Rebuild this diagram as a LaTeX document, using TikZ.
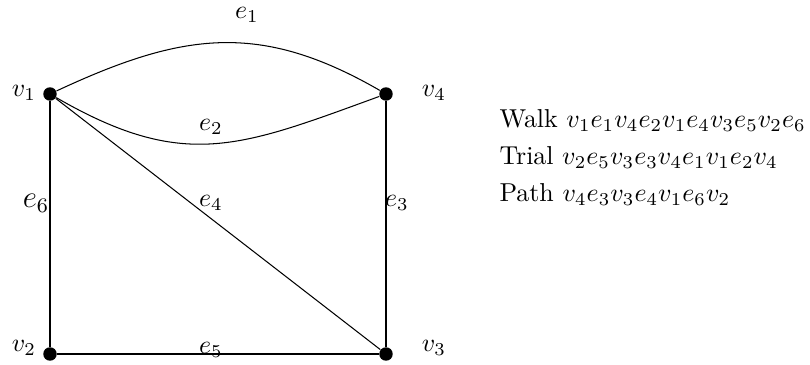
\documentclass[tikz,border=0pt]{standalone}
\begin{document}
\begin{tikzpicture}[x=0.386pt,y=0.386pt,
  vert/.style={circle,fill=black,inner sep=0pt,minimum size=5.2pt},
  lbl/.style={inner sep=0pt},
  txt/.style={inner sep=0pt,anchor=base west}]
\useasboundingbox (0,0) rectangle (810,365);
\node[vert] (v1) at (50,271) {};
\node[vert] (v4) at (386,271) {};
\node[vert] (v2) at (50,11) {};
\node[vert] (v3) at (386,11) {};
\node[lbl] (lv1) at (24,272) {$v_1$};
\node[lbl] (lv4) at (434,272) {$v_4$};
\node[lbl] (lv2) at (24,17) {$v_2$};
\node[lbl] (lv3) at (434,17) {$v_3$};
\draw (v1) to[out=25,in=150,looseness=1.1] (v4);
\draw (v1) to[out=-30,in=200,looseness=1.17] (v4);
\draw (v1) -- (v2);
\draw (v2) -- (v3);
\draw (v4) -- (v3);
\draw (v1) -- (v3);
\node[lbl] (e1) at (247,350) {$e_1$};
\node[lbl] (e2) at (211,238) {$e_2$};
\node[lbl] (e6) at (36,162) {\large $e_6$};
\node[lbl] (e4) at (211,162) {$e_4$};
\node[lbl] (e3) at (397,162) {$e_3$};
\node[lbl] (e5) at (211,15) {$e_5$};
\node[txt] (walk) at (499,237) {Walk $v_1e_1v_4e_2v_1e_4v_3e_5v_2e_6$};
\node[txt] (trial) at (499,200) {Trial $v_2e_5v_3e_3v_4e_1v_1e_2v_4$};
\node[txt] (path) at (499,163) {Path $v_4e_3v_3e_4v_1e_6v_2$};
\end{tikzpicture}
\end{document}
